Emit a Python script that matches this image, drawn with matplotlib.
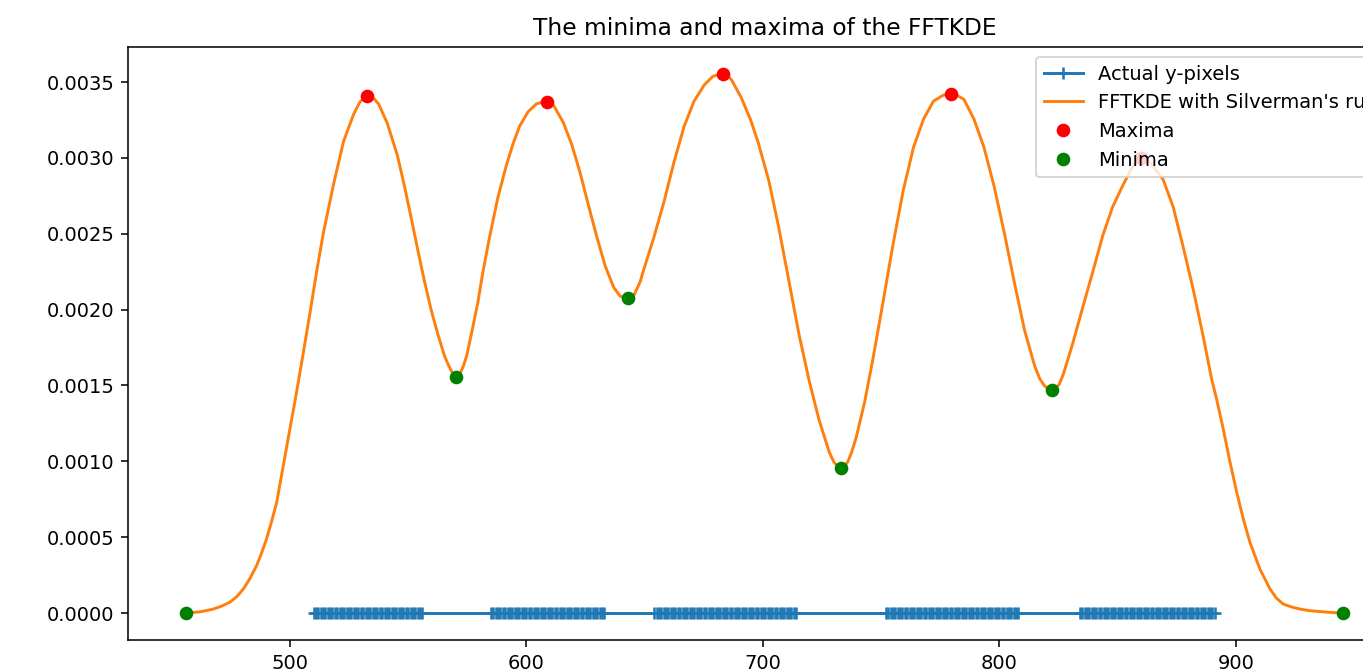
import numpy as np
import matplotlib
matplotlib.use("Agg")
import matplotlib.pyplot as plt

# Pixel rows (y-pixels) found in each text band: (first row, last row)
pixel_bands = [(510, 556), (585, 633), (654, 714), (752, 808), (834, 891)]

# FFTKDE evaluation grid and density values (Silverman's rule bandwidth)
kde_grid = [
    456.0, 462.0, 467.6, 471.0, 474.6, 477.5, 480.3, 483.0, 485.9, 488.0,
    490.1, 492.2, 494.4, 497.2, 500.0, 502.8, 505.5, 508.5, 511.4, 514.2,
    518.5, 522.7, 527.0, 529.5, 531.2, 532.6, 534.0, 535.6, 537.5, 541.1,
    545.4, 548.2, 551.1, 553.9, 556.8, 559.6, 562.5, 565.3, 567.0, 568.3,
    569.2, 570.2, 571.2, 572.3, 573.5, 574.8, 577.0, 579.5, 581.5, 584.4,
    587.9, 591.5, 594.3, 597.1, 600.7, 604.2, 606.5, 608.7, 611.3, 615.6,
    619.1, 622.7, 626.2, 629.8, 633.3, 636.9, 639.7, 642.9, 645.6, 648.0,
    649.6, 653.9, 658.2, 662.4, 666.7, 670.9, 675.2, 678.7, 681.0, 683.1,
    685.0, 686.8, 690.8, 694.8, 698.0, 702.4, 706.6, 710.9, 715.2, 719.5,
    723.7, 728.0, 730.0, 731.7, 733.0, 734.3, 735.8, 737.5, 739.4, 743.0,
    746.5, 750.8, 755.0, 759.3, 763.6, 767.9, 772.1, 776.4, 779.5, 782.3,
    785.0, 789.2, 793.5, 797.8, 802.1, 806.4, 810.6, 814.9, 817.0, 818.9,
    820.6, 822.2, 823.8, 825.3, 826.9, 831.0, 835.2, 839.5, 843.7, 847.9,
    852.2, 855.7, 858.0, 859.8, 862.0, 864.5, 869.2, 873.4, 877.6, 881.9,
    886.1, 889.7, 891.8, 894.6, 897.5, 900.3, 903.1, 905.9, 910.1, 914.4,
    917.0, 920.0, 923.5, 927.1, 931.0, 935.5, 940.0, 945.2,
]
kde_density = [
    0.000000, 0.000008, 0.000026, 0.000045, 0.000071, 0.000108, 0.000158, 0.000225, 0.000312, 0.000395,
    0.000488, 0.000600, 0.000730, 0.000971, 0.001213, 0.001455, 0.001700, 0.001980, 0.002260, 0.002510,
    0.002830, 0.003110, 0.003290, 0.003365, 0.003397, 0.003408, 0.003404, 0.003390, 0.003355, 0.003231,
    0.003019, 0.002830, 0.002618, 0.002406, 0.002193, 0.002005, 0.001840, 0.001698, 0.001635, 0.001595,
    0.001570, 0.001556, 0.001566, 0.001590, 0.001635, 0.001700, 0.001860, 0.002050, 0.002240, 0.002477,
    0.002737, 0.002950, 0.003091, 0.003209, 0.003304, 0.003356, 0.003366, 0.003368, 0.003351, 0.003233,
    0.003091, 0.002902, 0.002689, 0.002477, 0.002288, 0.002146, 0.002087, 0.002076, 0.002100, 0.002180,
    0.002264, 0.002477, 0.002713, 0.002973, 0.003209, 0.003375, 0.003481, 0.003536, 0.003549, 0.003553,
    0.003545, 0.003512, 0.003398, 0.003250, 0.003100, 0.002855, 0.002548, 0.002194, 0.001840, 0.001534,
    0.001274, 0.001062, 0.000995, 0.000966, 0.000956, 0.000965, 0.000995, 0.001060, 0.001156, 0.001392,
    0.001675, 0.002053, 0.002430, 0.002784, 0.003067, 0.003256, 0.003374, 0.003415, 0.003421, 0.003410,
    0.003385, 0.003256, 0.003067, 0.002808, 0.002501, 0.002171, 0.001864, 0.001628, 0.001545, 0.001500,
    0.001478, 0.001470, 0.001480, 0.001510, 0.001570, 0.001778, 0.002015, 0.002252, 0.002490, 0.002679,
    0.002821, 0.002925, 0.002980, 0.003000, 0.002990, 0.002955, 0.002857, 0.002679, 0.002418, 0.002134,
    0.001826, 0.001542, 0.001411, 0.001213, 0.000993, 0.000796, 0.000620, 0.000466, 0.000290, 0.000158,
    0.000100, 0.000059, 0.000040, 0.000026, 0.000016, 0.000010, 0.000004, 0.000000,
]

# Local extrema of the density
maxima_x = [532.6, 608.7, 683.1, 779.5, 859.8]
maxima_y = [0.003408, 0.003368, 0.003553, 0.003421, 0.003000]
minima_x = [456.0, 570.2, 642.9, 733.0, 822.2, 945.2]
minima_y = [0.000000, 0.001556, 0.002076, 0.000956, 0.001470, 0.000000]

y_pixels = [row for first, last in pixel_bands for row in range(first, last + 1)]

DPI = 140
fig = plt.figure(figsize=(1363 / DPI, 672 / DPI), dpi=DPI)
ax = fig.add_axes([0.0939, 0.0476, 0.9338, 0.8824])

ax.plot(y_pixels, np.zeros(len(y_pixels)), marker="+", markeredgewidth=1.3,
        linestyle="-", color="C0", label="Actual y-pixels")
ax.plot(kde_grid, kde_density, color="C1", label="FFTKDE with Silverman's rule")
ax.plot(maxima_x, maxima_y, "ro", label="Maxima")
ax.plot(minima_x, minima_y, "go", label="Minima")

ax.set_title("The minima and maxima of the FFTKDE")
ax.legend(loc="upper right")

fig.savefig("out.png", dpi=DPI)
